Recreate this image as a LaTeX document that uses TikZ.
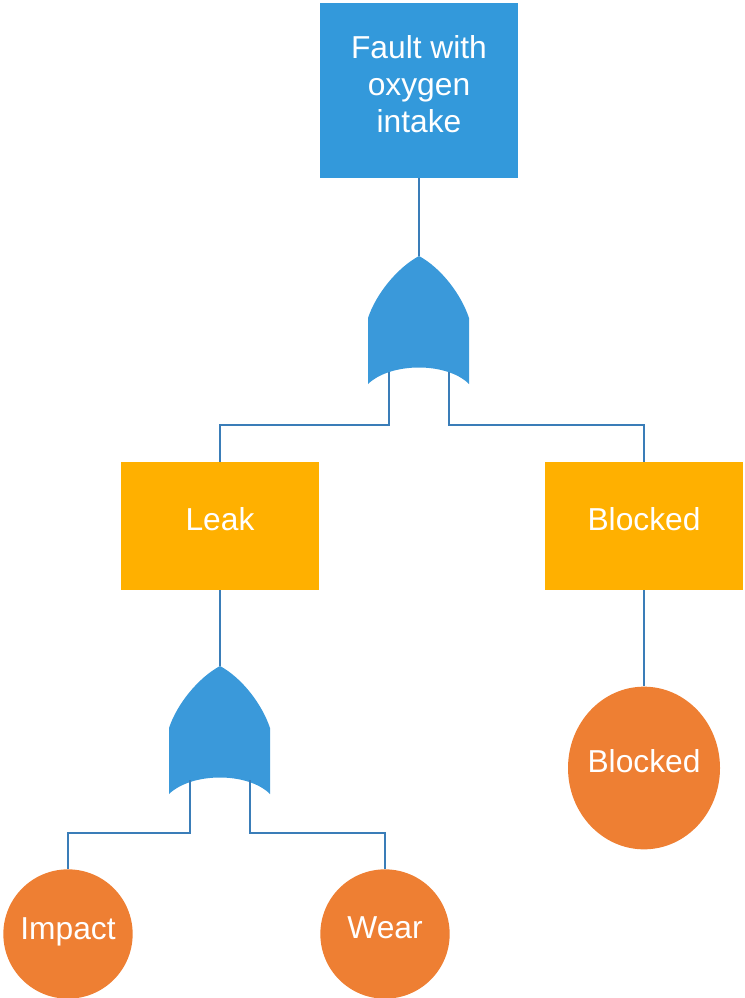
\documentclass[tikz,border=0pt]{standalone}
\usepackage{fontspec}
\usetikzlibrary{shapes.geometric}
\setmainfont{Liberation Sans}
\definecolor{topblue}{HTML}{3399DB}
\definecolor{gateblue}{HTML}{3A99DA}
\definecolor{wireblue}{HTML}{3A7DB8}
\definecolor{eventgold}{HTML}{FFB000}
\definecolor{basicorange}{HTML}{EE7F33}
\tikzset{
  x=0.75pt, y=-0.75pt,
  txt/.style={text=white, font=\fontsize{23.8}{27.75}\selectfont, align=center},
  eventbox/.style={fill=eventgold, draw=none, minimum width=148.5pt, minimum height=96pt, inner sep=0pt},
  topbox/.style={fill=topblue, draw=none, minimum width=148.5pt, minimum height=131.25pt, inner sep=0pt},
  basic/.style={fill=basicorange, draw=none, circle, minimum size=97pt, inner sep=0pt},
  basicoval/.style={fill=basicorange, draw=none, ellipse, minimum width=114pt, minimum height=122pt, inner sep=0pt},
  wire/.style={draw=wireblue, line width=0.9pt},
  gatefill/.style={fill=gateblue, draw=none},
}
% OR gate drawn with its apex at the given point
\newcommand{\orgate}[2]{%
  \fill[gatefill, shift={(#1,#2)}]
    (0,0) .. controls (22,12) and (42,38) .. (50,62)
    -- (50,128) .. controls (28,106) and (-28,106) .. (-51,128)
    -- (-51,62) .. controls (-43,38) and (-22,12) .. (0,0) -- cycle;}
\begin{document}
\begin{tikzpicture}
\useasboundingbox (0,0) rectangle (744,998);

% top event
\node[topbox] (top) at (419,90.5) {};
\node[txt] (toptxt) at (419,84) {Fault with\\oxygen\\intake};

% first OR gate
\orgate{419}{256}
\coordinate (g1out) at (419,256);
\coordinate (g1a) at (389,372);
\coordinate (g1b) at (449,372);

% intermediate events
\node[eventbox] (leak) at (220,526) {};
\node[txt] (leaktxt) at (220,519) {Leak};
\node[eventbox] (blk) at (644,526) {};
\node[txt] (blktxt) at (644,519) {Blocked};

% second OR gate
\orgate{220}{666}
\coordinate (g2out) at (220,666);
\coordinate (g2a) at (190,780);
\coordinate (g2b) at (250,780);

% basic events
\node[basic] (impact) at (68,934) {};
\node[txt] (impacttxt) at (68,932) {Impact};
\node[basic] (wear) at (385,934) {};
\node[txt] (weartxt) at (385,928) {Wear};
\node[basicoval] (blkc) at (644,768) {};
\node[txt] (blkctxt) at (644,761) {Blocked};

% connectors
\draw[wire] (top.south) -- (g1out);
\draw[wire] (g1a) |- (220,425) -- (leak.north);
\draw[wire] (g1b) |- (644,425) -- (blk.north);
\draw[wire] (leak.south) -- (g2out);
\draw[wire] (g2a) |- (68,833) -- (impact.north);
\draw[wire] (g2b) |- (385,833) -- (wear.north);
\draw[wire] (blk.south) -- (blkc.north);
\end{tikzpicture}
\end{document}
